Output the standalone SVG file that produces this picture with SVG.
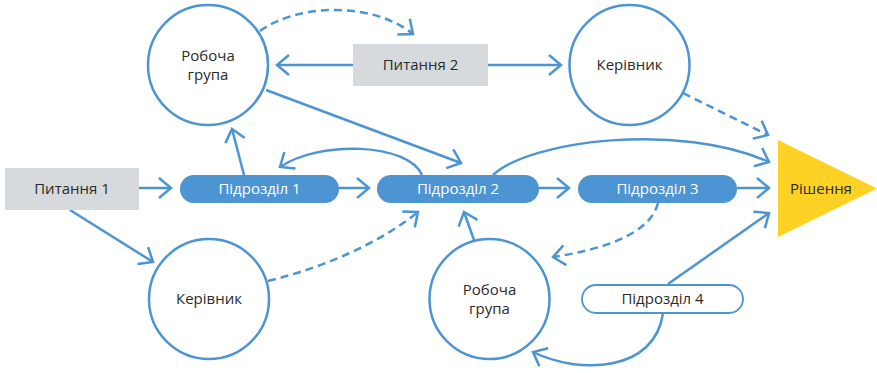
<svg xmlns="http://www.w3.org/2000/svg" width="877" height="373" viewBox="0 0 877 373">
<style>
.c{fill:#fff;stroke:#4d94d2;stroke-width:2.5}
.q{fill:#d7dadd}
.p{fill:#4d94d2}
.w{fill:#fff;stroke:#4d94d2;stroke-width:1.8}
.t{font-family:"Open Sans","Noto Sans",sans-serif;font-size:15px;fill:#2a2a2a;text-anchor:middle}
.tw{font-family:"Open Sans","Noto Sans",sans-serif;font-size:15px;fill:#fff;text-anchor:middle}
.l{fill:none;stroke:#4d94d2;stroke-width:2.5}
.d{stroke-dasharray:8 5}
</style>
<defs>
<marker id="a" markerUnits="userSpaceOnUse" markerWidth="30" markerHeight="30" refX="0" refY="0" viewBox="-15 -15 30 30" orient="auto">
<path d="M-12,-10 L0,0 L-12,10" fill="none" stroke="#4d94d2" stroke-width="2.5" stroke-dasharray="none"/>
</marker>
</defs>
<g id="connectors">
<line class="l" x1="139" y1="188" x2="171" y2="188" marker-end="url(#a)"/>
<line class="l" x1="339" y1="188" x2="369" y2="188" marker-end="url(#a)"/>
<line class="l" x1="539" y1="188" x2="569" y2="188" marker-end="url(#a)"/>
<line class="l" x1="737" y1="188" x2="769" y2="188" marker-end="url(#a)"/>
<line class="l" x1="70" y1="210" x2="153" y2="262" marker-end="url(#a)"/>
<path class="l d" d="M268,281 Q360,258 418,212" marker-end="url(#a)"/>
<line class="l" x1="244" y1="175" x2="232" y2="129" marker-end="url(#a)"/>
<path class="l" d="M422,175 C408,143 320,140 280,167" marker-end="url(#a)"/>
<line class="l" x1="266" y1="90" x2="461" y2="163" marker-end="url(#a)"/>
<path class="l d" d="M260,31 C295,5 370,0 413,34" marker-end="url(#a)"/>
<line class="l" x1="353" y1="65" x2="277" y2="65" marker-end="url(#a)"/>
<line class="l" x1="488" y1="65" x2="561" y2="65" marker-end="url(#a)"/>
<line class="l d" x1="683" y1="93" x2="768" y2="135" marker-end="url(#a)"/>
<path class="l" d="M493,175 C530,140 680,122 769,162" marker-end="url(#a)"/>
<path class="l d" d="M658,203 C650,235 600,250 553,257" marker-end="url(#a)"/>
<line class="l" x1="474" y1="240" x2="464" y2="212" marker-end="url(#a)"/>
<line class="l" x1="668" y1="284" x2="769" y2="213" marker-end="url(#a)"/>
<path class="l" d="M663,313 C655,372 580,375 533,352" marker-end="url(#a)"/>
</g>
<g id="q1"><rect class="q" x="5" y="168" width="134" height="42"/><text class="t" x="72" y="194">Питання 1</text></g>
<g id="q2"><rect class="q" x="353" y="44" width="135" height="42"/><text class="t" x="420.5" y="70">Питання 2</text></g>
<g id="wg1"><circle class="c" cx="208" cy="65" r="60"/><text class="t" x="208" y="61">Робоча</text><text class="t" x="208" y="80">група</text></g>
<g id="k1"><circle class="c" cx="629.5" cy="65" r="60"/><text class="t" x="629.5" y="70">Керівник</text></g>
<g id="k2"><circle class="c" cx="209" cy="299" r="60"/><text class="t" x="209" y="304">Керівник</text></g>
<g id="wg2"><circle class="c" cx="489.5" cy="299" r="60"/><text class="t" x="489.5" y="295">Робоча</text><text class="t" x="489.5" y="314">група</text></g>
<g id="d1"><rect class="p" x="180" y="175" width="159" height="28" rx="14"/><text class="tw" x="259.5" y="194">Підрозділ 1</text></g>
<g id="d2"><rect class="p" x="377" y="175" width="162" height="28" rx="14"/><text class="tw" x="458" y="194">Підрозділ 2</text></g>
<g id="d3"><rect class="p" x="578" y="175" width="159" height="28" rx="14"/><text class="tw" x="657.5" y="194">Підрозділ 3</text></g>
<g id="d4"><rect class="w" x="582" y="285" width="161" height="28" rx="14"/><text class="t" x="662.5" y="304">Підрозділ 4</text></g>
<g id="r"><polygon points="778,140 877,188.5 778,237" fill="#fdd224"/><text class="t" x="821" y="194">Рішення</text></g>
</svg>
